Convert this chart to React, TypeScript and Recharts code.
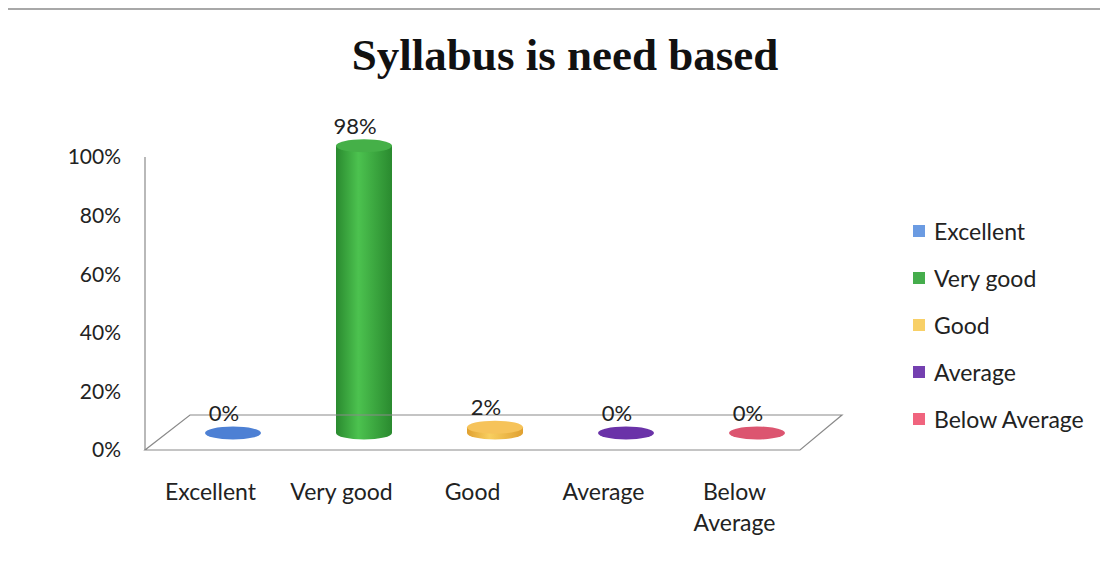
import { BarChart, Bar, XAxis, YAxis, Cell, LabelList, ReferenceLine } from "recharts";

const categories = ["Excellent", "Very good", "Good", "Average", "Below Average"];
const shares = [0, 0.98, 0.02, 0, 0];
const yTicks = [0, 0.2, 0.4, 0.6, 0.8, 1];

// side (dark, light) and top colours per category
const sideDark = ["#2f5fb0", "#2a8a2f", "#e0a030", "#4a1f80", "#c03a52"];
const sideLight = ["#5a8fe0", "#4cc24f", "#f8cf60", "#7a3fb8", "#e86880"];
const topColors = ["#4d80d4", "#45b048", "#f6c35a", "#6a32a8", "#dc5570"];
const legendColors = ["#6b9be2", "#45ad4c", "#f8d067", "#7440b0", "#f0647e"];

const data = categories.map((name, i) => ({ name, value: shares[i] }));

const DX = 22; // depth shift of the cylinders
const DY = -17;
const FONT = "Lato, 'Open Sans', sans-serif";

function Cylinder(props: any) {
  const { x, y, width, height, index } = props;
  const rx = width / 2;
  const ry = 6.5;
  const cx = x + rx + DX;
  const top = y + DY;
  const bottom = y + height + DY;
  return (
    <g>
      {bottom - top > 0 && (
        <path
          d={`M${cx - rx},${top} L${cx - rx},${bottom} A${rx},${ry} 0 0 0 ${cx + rx},${bottom} L${cx + rx},${top} Z`}
          fill={`url(#side${index})`}
        />
      )}
      <ellipse cx={cx} cy={top} rx={rx} ry={ry} fill={topColors[index]} />
    </g>
  );
}

function Floor(props: any) {
  const { x1, y1, x2 } = props;
  const d = `M${x1},${y1} L${x2},${y1} L${x2 + 42},${y1 - 35} L${x1 + 45},${y1 - 35} Z`;
  return <path d={d} fill="none" stroke="#8a8a8a" strokeWidth={1.2} />;
}

function CategoryTick(props: any) {
  const { x, y, payload } = props;
  const words: string[] = payload.value === "Below Average" ? ["Below", "Average"] : [payload.value];
  return (
    <g>
      {words.map((w, i) => (
        <text key={w} x={x} y={y + 48 + i * 31} textAnchor="middle" fontSize={23} fill="#222" fontFamily={FONT}>
          {w}
        </text>
      ))}
    </g>
  );
}

function ValueLabel(props: any) {
  const { x, y, width, value } = props;
  return (
    <text x={x + width / 2 + DX - 9} y={y + DY - 12} textAnchor="middle" fontSize={22} fill="#222" fontFamily={FONT}>
      {Math.round(value * 100)}%
    </text>
  );
}

function LegendBox() {
  return (
    <div style={{ position: "absolute", left: 913, top: 207, fontFamily: FONT, fontSize: 23, color: "#222" }}>
      {categories.map((c, i) => (
        <div key={c} style={{ display: "flex", alignItems: "center", height: 47 }}>
          <span style={{ width: 12, height: 12, background: legendColors[i], marginRight: 9 }} />
          {c}
        </div>
      ))}
    </div>
  );
}

export default function App() {
  return (
    <div style={{ position: "relative", width: 1108, height: 563, margin: -8, background: "#fff", overflow: "hidden" }}>
      <div
        style={{
          position: "absolute", left: 0, width: 1130, top: 30, lineHeight: "50px", textAlign: "center",
          fontFamily: "'Liberation Serif', 'Times New Roman', serif", fontWeight: "bold", fontSize: 45, color: "#111",
        }}
      >
        Syllabus is need based
      </div>
      <BarChart width={1108} height={563} data={data} margin={{ top: 157, right: 308, bottom: 83, left: 85 }}>
        <defs>
          {categories.map((c, i) => (
            <linearGradient key={c} id={`side${i}`} x1="0" y1="0" x2="1" y2="0">
              <stop offset="0%" stopColor={sideDark[i]} />
              <stop offset="40%" stopColor={sideLight[i]} />
              <stop offset="100%" stopColor={sideDark[i]} />
            </linearGradient>
          ))}
        </defs>
        <XAxis dataKey="name" interval={0} axisLine={false} tickLine={false} tickSize={0} tick={<CategoryTick />} />
        <YAxis
          width={60}
          domain={[0, 1]}
          ticks={yTicks}
          tickFormatter={(v: number) => `${Math.round(v * 100)}%`}
          axisLine={{ stroke: "#8a8a8a", strokeWidth: 1.2 }}
          tickLine={false}
          tickSize={0}
          tickMargin={24}
          tick={{ fill: "#222", fontSize: 21, fontFamily: FONT }}
        />
        <ReferenceLine y={0} shape={<Floor />} />
        <Bar dataKey="value" barSize={56} shape={<Cylinder />} isAnimationActive={false}>
          {data.map((d, i) => (
            <Cell key={d.name} fill={topColors[i]} />
          ))}
          <LabelList dataKey="value" content={<ValueLabel />} />
        </Bar>
      </BarChart>
      <LegendBox />
      <div
        style={{
          position: "absolute", left: 6, top: 8, width: 1097, height: 600, pointerEvents: "none",
          borderTop: "2px solid #a8a8a8", borderLeft: "2px solid #a8a8a8", borderRight: "1px solid #d0d0d0",
        }}
      />
    </div>
  );
}
